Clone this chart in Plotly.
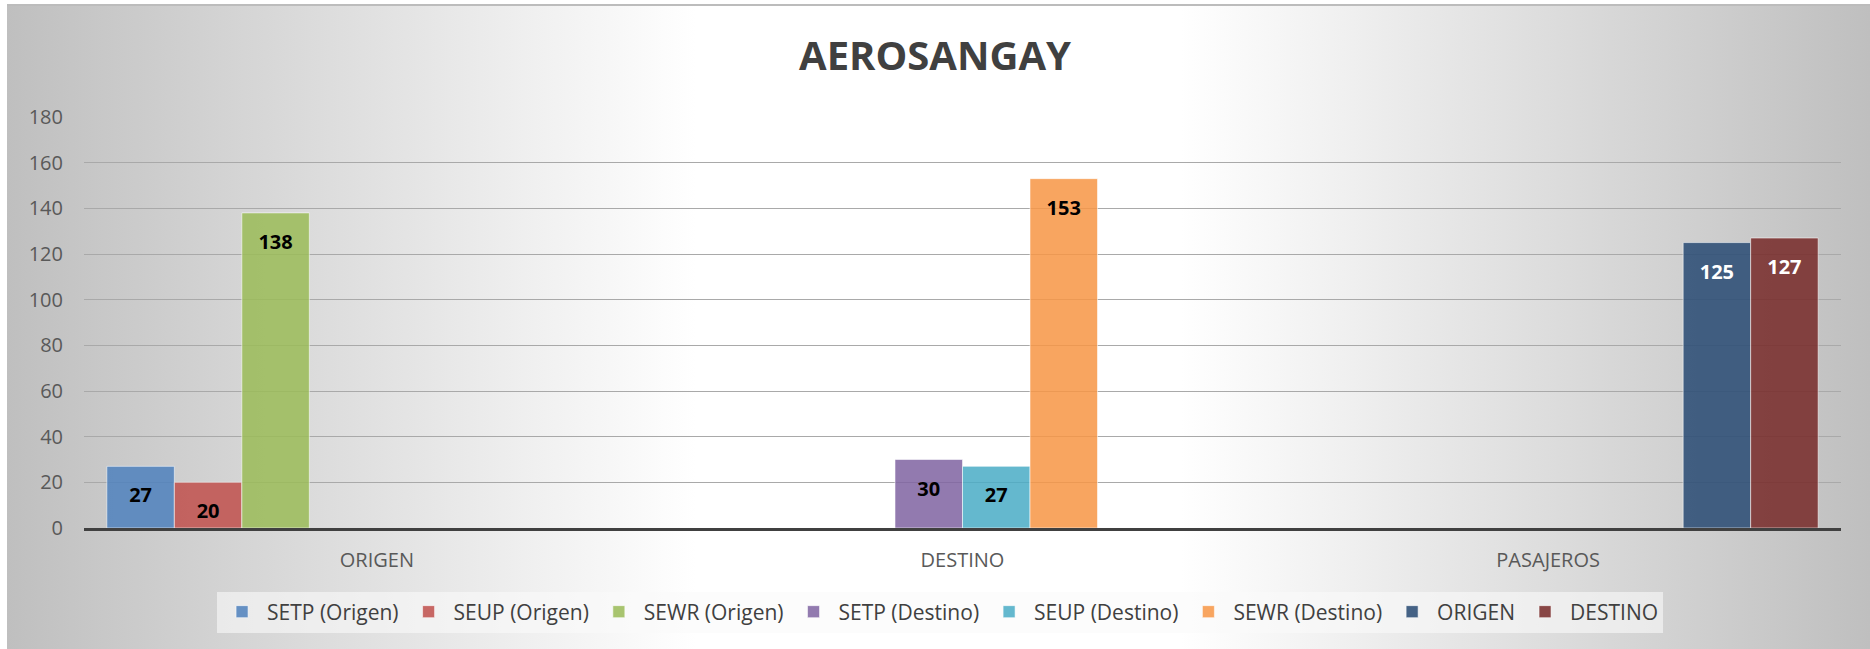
import base64
import plotly.graph_objects as go

# ---------------- data ----------------
categories = ["ORIGEN", "DESTINO", "PASAJEROS"]
series_names = ["SETP (Origen)", "SEUP (Origen)", "SEWR (Origen)",
                "SETP (Destino)", "SEUP (Destino)", "SEWR (Destino)",
                "ORIGEN", "DESTINO"]
setp_origen = [27, None, None]
seup_origen = [20, None, None]
sewr_origen = [138, None, None]
setp_destino = [None, 30, None]
seup_destino = [None, 27, None]
sewr_destino = [None, 153, None]
total_origen = [None, None, 125]
total_destino = [None, None, 127]
series_values = [setp_origen, seup_origen, sewr_origen,
                 setp_destino, seup_destino, sewr_destino,
                 total_origen, total_destino]
y_ticks = [0, 20, 40, 60, 80, 100, 120, 140, 160, 180]
title_text = "AEROSANGAY"

# ---------------- style ----------------
colors = ["rgba(79,129,189,0.86)", "rgba(192,80,77,0.86)", "rgba(155,187,89,0.86)",
          "rgba(128,100,162,0.86)", "rgba(75,172,198,0.86)", "rgba(247,150,70,0.86)",
          "rgba(44,77,117,0.88)", "rgba(119,42,41,0.86)"]
label_colors = ["#000000"] * 6 + ["#ffffff"] * 2
FONT = "Open Sans, DejaVu Sans, sans-serif"

W, H = 1870, 649
ml, mr, mt, mb = 84, 29, 117, 121

fig = go.Figure()
for name, vals, col, lc in zip(series_names, series_values, colors, label_colors):
    fig.add_trace(go.Bar(
        x=categories, y=vals, name=name,
        marker=dict(color=col, line=dict(color="rgba(255,255,255,0.55)", width=1)),
        texttemplate='<span style="font-size:7px">\u00a0</span><br>%{y}',
        textposition="inside", insidetextanchor="end", textangle=0,
        constraintext="none",
        textfont=dict(family=FONT, size=20, color=lc, weight="bold"),
        hoverinfo="name+y",
    ))

# background gradient (Excel-like chart area fill) as an inline SVG
bg_w, bg_h = W - 7, H - 4
svg = (f'<svg xmlns="http://www.w3.org/2000/svg" width="{bg_w}" height="{bg_h}" '
       f'viewBox="0 0 {bg_w} {bg_h}" preserveAspectRatio="none">'
       '<defs><linearGradient id="g" x1="0" x2="1" y1="0" y2="0">'
       '<stop offset="0" stop-color="#bfbfbf"/>'
       '<stop offset="0.37" stop-color="#ffffff"/>'
       '<stop offset="0.63" stop-color="#ffffff"/>'
       '<stop offset="1" stop-color="#bfbfbf"/>'
       '</linearGradient></defs>'
       f'<rect width="{bg_w}" height="{bg_h}" fill="url(#g)"/>'
       f'<rect width="{bg_w}" height="2" fill="#bcbcbc"/>'
       '</svg>')
src = "data:image/svg+xml;base64," + base64.b64encode(svg.encode()).decode()
pw, ph = W - ml - mr, H - mt - mb
fig.add_layout_image(dict(
    source=src, xref="paper", yref="paper",
    x=(7 - ml) / pw, y=(H - mb - 4) / ph,
    sizex=bg_w / pw, sizey=bg_h / ph,
    xanchor="left", yanchor="top", sizing="stretch", layer="below",
))

fig.update_layout(
    width=W, height=H, autosize=False,
    margin=dict(l=ml, r=mr, t=mt, b=mb, pad=0),
    paper_bgcolor="#ffffff", plot_bgcolor="rgba(0,0,0,0)",
    barmode="group", bargap=0.078, bargroupgap=0,
    title=dict(text=f"<b>{title_text}</b>", x=0.5, xref="container", xanchor="center",
               y=1 - 56 / H, yref="container", yanchor="middle",
               font=dict(family=FONT, size=40, color="#404040")),
    font=dict(family=FONT, color="#595959"),
    showlegend=True,
    legend=dict(orientation="h", xref="container", yref="container",
                x=0.5027, xanchor="center", y=1 - 612 / H, yanchor="middle",
                bgcolor="rgba(250,250,250,0.6)", borderwidth=0,
                font=dict(family=FONT, size=21, color="#404040"),
                itemwidth=40, traceorder="normal"),
    xaxis=dict(type="category", showgrid=False, ticks="", showline=True,
               linecolor="#404040", linewidth=3, zeroline=False,
               tickfont=dict(family=FONT, size=20, color="#595959"),
               ticklabelstandoff=12),
    yaxis=dict(range=[0, 180], tickvals=y_ticks, showgrid=True,
               gridcolor="#a9a9a9", gridwidth=1, zeroline=False, showline=False,
               ticks="", tickfont=dict(family=FONT, size=20, color="#595959"),
               ticklabelstandoff=20),
)

fig.write_html("out.html", include_plotlyjs=True,
               config={"displayModeBar": False},
               post_script="document.body.style.margin='0';")
